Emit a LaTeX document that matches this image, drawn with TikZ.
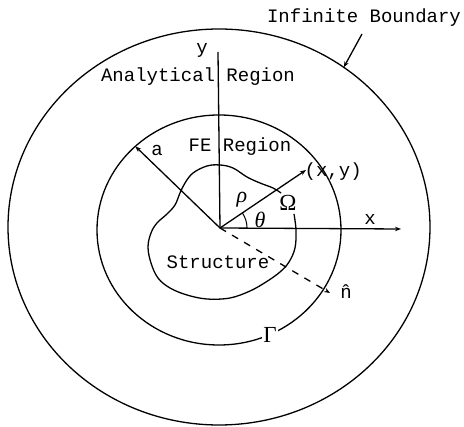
\documentclass[tikz,border=0pt]{standalone}
\usepackage{fontspec}
\setmonofont{Liberation Mono}
\newfontfamily\greekfont{Liberation Serif}
\usetikzlibrary{arrows.meta,shapes.geometric}
\begin{document}
\begin{tikzpicture}[x=1pt,y=-1pt,line width=1.3pt,
  lbl/.style={font=\fontsize{19}{21}\selectfont\ttfamily,inner sep=0pt},
  gk/.style={font=\fontsize{23}{25}\selectfont\greekfont,inner sep=0pt},
  gki/.style={font=\fontsize{22}{24}\selectfont\greekfont\itshape,inner sep=0pt},
  arr/.style={-{Stealth[length=6pt,width=4.5pt]}},
  ring/.style={draw,ellipse,inner sep=0pt,outer sep=0pt}]
\useasboundingbox (0,0) rectangle (464,427);
% boundaries
\node[ring,minimum width=422pt,minimum height=396pt] (outer) at (219,227) {};
\node[ring,minimum width=244pt,minimum height=230pt] (mid) at (219,230) {};
% structure
\draw plot[smooth,tension=0.6] coordinates {(294,214) (296,230) (295,248) (289,262) (280,272) (266,282) (250,291) (230,298) (207,299) (187,295) (170,288) (158,278) (151,263) (148,247) (151,233) (157,223) (167,214) (175,205) (180,193) (185,183) (193,173) (207,166) (220,165) (233,168) (247,177) (260,183) (273,188) (281,193)};
% coordinates
\coordinate (O) at (220,228);
\coordinate (yend) at (218,52);
\coordinate (xend) at (401,229);
\coordinate (P) at (306,170);
\coordinate (nend) at (330,293);
\coordinate (ibt) at (362,34);
% axes and rays
\draw (O) -- (yend);
\draw[arr] (O) -- (xend);
\draw[arr] (O) -- (mid.135);
\draw[arr] (O) -- (P);
\draw[arr,dash pattern=on 7pt off 7pt] (O) -- (nend);
\draw[arr] (ibt) -- (outer.52);
\draw[line width=1pt] ([shift={(0:27pt)}]O) arc[start angle=0,end angle=34,radius=27pt];
% labels
\node[lbl] (ibl) at (364,18) {Infinite Boundary};
\node[lbl] (ylab) at (202,50) {y};
\node[lbl] (anl) at (198,77) {Analytical Region};
\node[lbl] (fel) at (240,147) {FE Region};
\node[lbl] (alab) at (157,150) {a};
\node[lbl,anchor=west] (xyl) at (304,172) {(x,y)};
\node[lbl] (xl) at (370,219) {x};
\node[lbl] (st) at (218,262) {Structure};
\node[lbl] (nl) at (346,292) {\^{n}};
\node[gki] (rho) at (242,200) {ρ};
\node[gki] (th) at (260,220) {θ};
\node[gk] (om) at (288,203) {Ω};
\node[gk,fill=white,inner sep=1pt] (gam) at (270,335) {Γ};
\end{tikzpicture}
\end{document}
